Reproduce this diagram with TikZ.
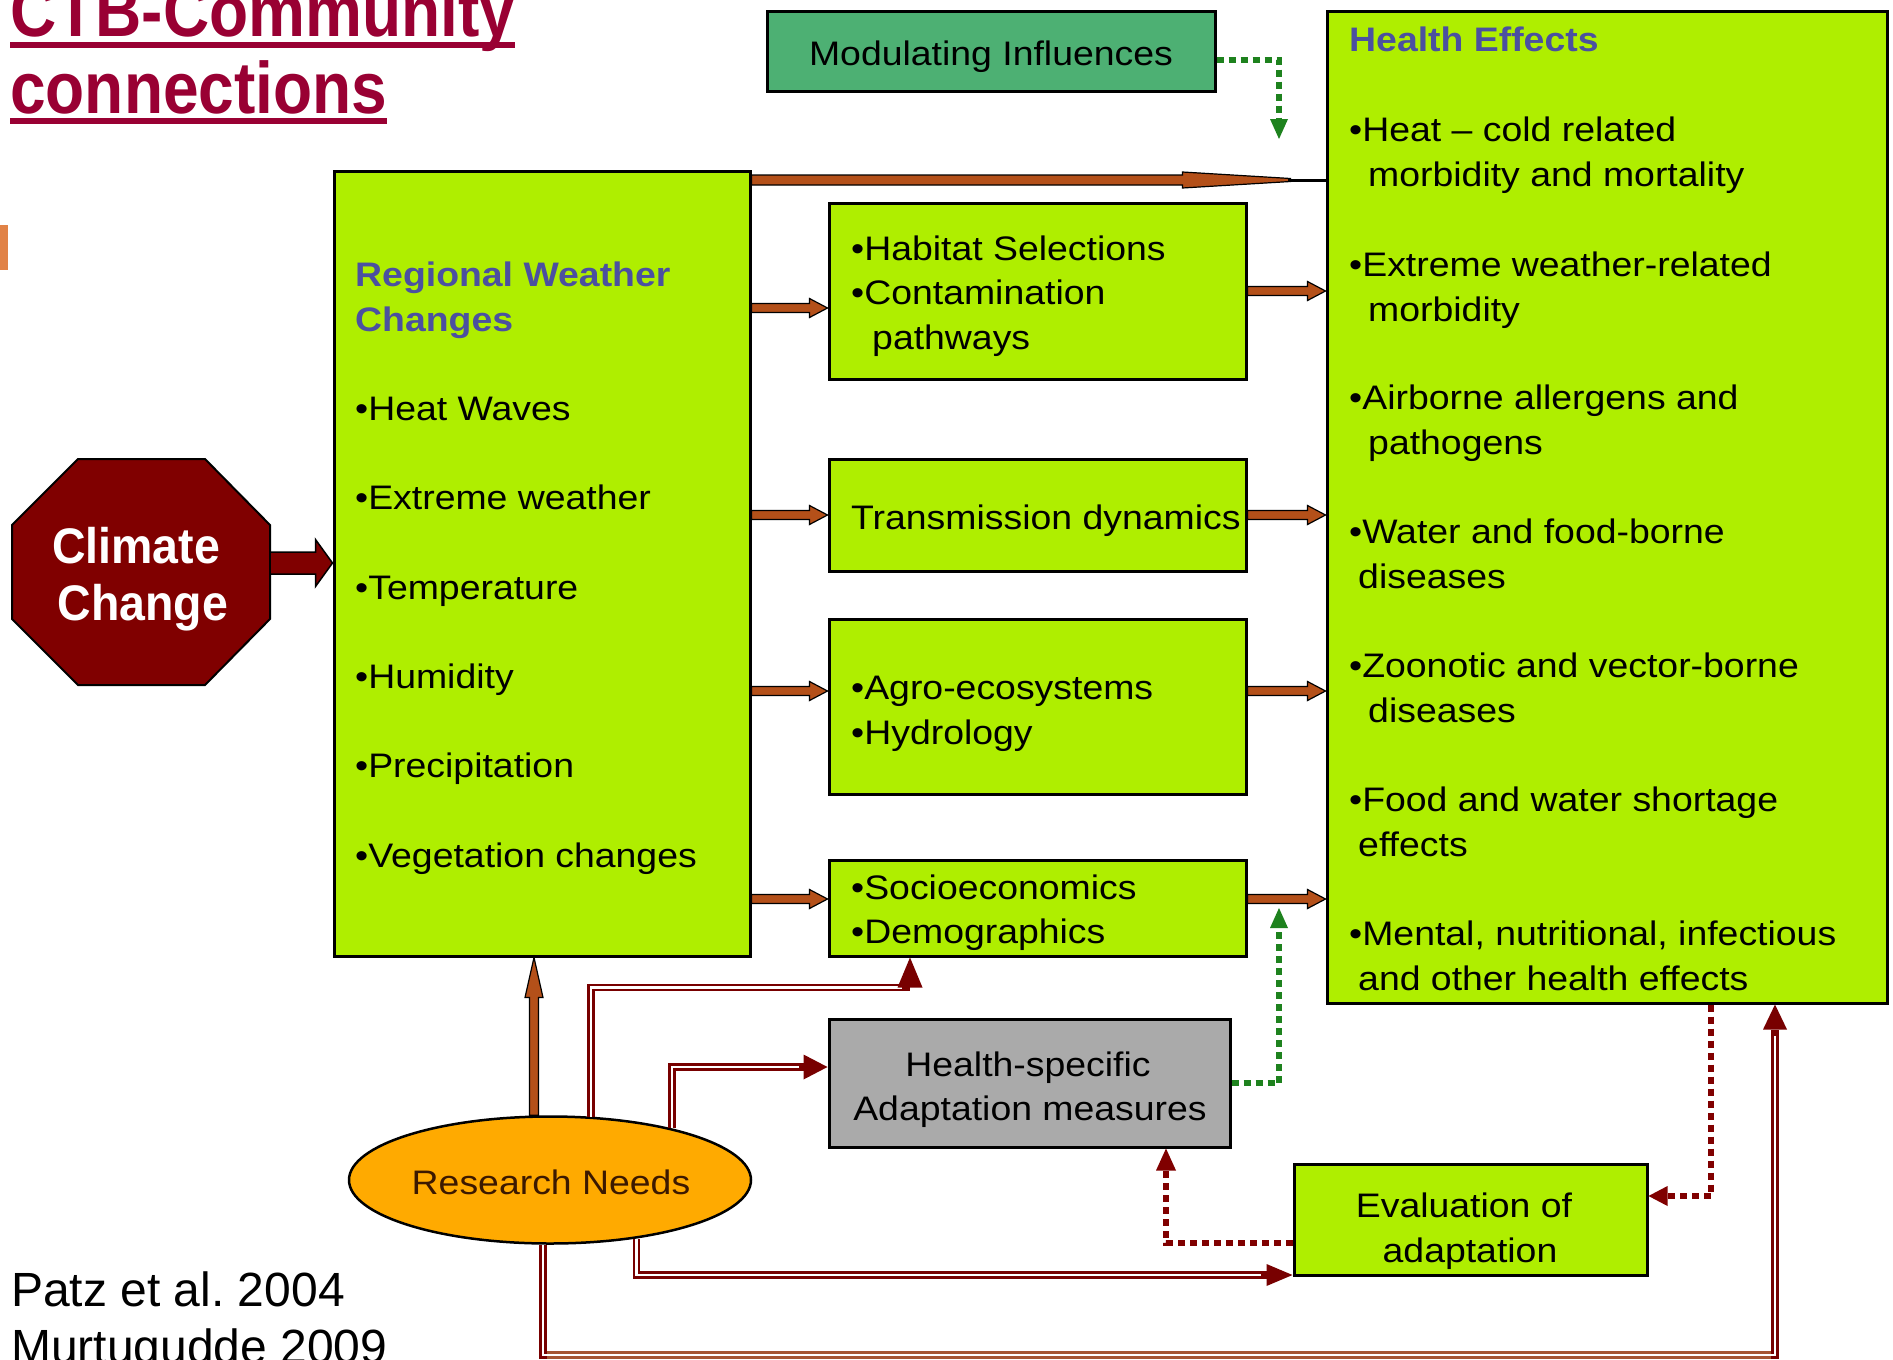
\documentclass[tikz,border=0pt]{standalone}
\usepackage{fontspec}
\setmainfont{Liberation Sans}[FakeStretch=1.1]
\newfontfamily\titlef{Liberation Sans}[FakeStretch=0.877]
\newfontfamily\plainf{Liberation Sans}
\newfontfamily\climf{Liberation Sans}[FakeStretch=0.93]
\usetikzlibrary{shapes.geometric,calc}
\frenchspacing
\definecolor{lime}{RGB}{175,238,0}
\definecolor{modg}{RGB}{77,176,115}
\definecolor{hsgray}{RGB}{170,170,170}
\definecolor{ttl}{RGB}{153,0,51}
\definecolor{hdblue}{RGB}{75,80,160}
\definecolor{octred}{RGB}{128,0,0}
\definecolor{brn}{RGB}{180,80,25}
\definecolor{rdk}{RGB}{120,0,0}
\definecolor{brntwo}{RGB}{165,85,50}
\definecolor{orng}{RGB}{255,170,0}
\definecolor{gdot}{RGB}{30,130,30}
\definecolor{markc}{RGB}{225,130,70}
\definecolor{restxt}{RGB}{60,25,0}
\newcommand\bodyf{\fontsize{34}{40}\selectfont}
\tikzset{
 box/.style={draw=black, line width=3pt, inner sep=0pt, fill=lime},
 ln/.style={anchor=base west, inner sep=0pt, font=\bodyf, text=black},
 hd/.style={anchor=base west, inner sep=0pt, font=\bodyf\bfseries, text=hdblue},
 ctr/.style={anchor=base, inner sep=0pt, font=\bodyf, text=black},
 brownfill/.style={fill=brn, draw=black, line width=1.2pt},
 rdo/.style={draw=rdk, line width=7.5pt},
 rdi/.style={draw=white, line width=2.5pt},
 gd/.style={draw=gdot, line width=6pt, dash pattern=on 7pt off 5pt},
 rdd/.style={draw=octred, line width=6pt, dash pattern=on 7pt off 5pt},
}
% horizontal brown block arrow
\newcommand\brarrow[2]{%
  \path[brownfill] let \p1=(#1), \p2=(#2) in
    (\x1,\y1+4.5pt) -- (\x2-18pt,\y1+4.5pt) -- (\x2-18pt,\y1+9.5pt) -- (\x2,\y1)
    -- (\x2-18pt,\y1-9.5pt) -- (\x2-18pt,\y1-4.5pt) -- (\x1,\y1-4.5pt) -- cycle;}
% vertical (upward) brown block arrow
\newcommand\brvarrow[2]{%
  \path[brownfill] let \p1=(#1), \p2=(#2) in
    (\x1-4.5pt,\y1) -- (\x1-4.5pt,\y2-40pt) -- (\x1-9pt,\y2-40pt) -- (\x1,\y2)
    -- (\x1+9pt,\y2-40pt) -- (\x1+4.5pt,\y2-40pt) -- (\x1+4.5pt,\y1) -- cycle;}
% tips: point, length, half width, colour
\newcommand\tipU[4]{\fill[#4] let \p1=(#1) in (\x1,\y1) -- (\x1-#3,\y1-#2) -- (\x1+#3,\y1-#2) -- cycle;}
\newcommand\tipD[4]{\fill[#4] let \p1=(#1) in (\x1,\y1) -- (\x1-#3,\y1+#2) -- (\x1+#3,\y1+#2) -- cycle;}
\newcommand\tipR[4]{\fill[#4] let \p1=(#1) in (\x1,\y1) -- (\x1-#2,\y1-#3) -- (\x1-#2,\y1+#3) -- cycle;}
\newcommand\tipL[4]{\fill[#4] let \p1=(#1) in (\x1,\y1) -- (\x1+#2,\y1-#3) -- (\x1+#2,\y1+#3) -- cycle;}
\begin{document}
\begin{tikzpicture}[x=1pt,y=-1pt]
\useasboundingbox (0,0) rectangle (1893,1360);
\fill[white] (0,0) rectangle (1893,1360);

% title
\node[anchor=base west, inner sep=0pt, font=\titlef\fontsize{73}{77}\selectfont\bfseries, text=ttl] (t1) at (10,36) {CTB-Community};
\node[anchor=base west, inner sep=0pt, font=\titlef\fontsize{73}{77}\selectfont\bfseries, text=ttl] (t2) at (10,113) {connections};
\draw[ttl, line width=6pt] ($(t1.base west)+(0,9)$) -- ($(t1.base east)+(0,9)$);
\draw[ttl, line width=6pt] ($(t2.base west)+(0,8)$) -- ($(t2.base east)+(0,8)$);
\fill[markc] (0,225) rectangle (8,270);

% boxes
\node[box, fill=modg, minimum width=448pt, minimum height=80pt] (mod) at (991,51) {};
\node[box, minimum width=560pt, minimum height=992pt] (he) at (1607,507) {};
\node[box, minimum width=416pt, minimum height=785pt] (reg) at (542,563.5) {};
\node[box, minimum width=417pt, minimum height=176pt] (hab) at (1037.5,291) {};
\node[box, minimum width=417pt, minimum height=112pt] (tra) at (1037.5,515) {};
\node[box, minimum width=417pt, minimum height=175pt] (agr) at (1037.5,706.5) {};
\node[box, minimum width=417pt, minimum height=96pt] (soc) at (1037.5,908) {};
\node[box, fill=hsgray, minimum width=401pt, minimum height=128pt] (hsa) at (1029.5,1083) {};
\node[box, minimum width=353pt, minimum height=111pt] (eva) at (1470.5,1219.5) {};
\node[ellipse, draw=black, line width=2.5pt, fill=orng, inner sep=0pt, minimum width=402pt, minimum height=127pt] (res) at (550,1180) {};

% climate change octagon
\path[fill=octred, draw=black, line width=2pt] (78,459) -- (205,459) -- (270,525) -- (270,619) -- (205,685) -- (78,685) -- (12,619) -- (12,525) -- cycle;
\coordinate (ccE) at (270,563);
\node[anchor=base, inner sep=0pt, font=\climf\fontsize{50}{57}\selectfont\bfseries, text=white] (cc1) at (136,563) {Climate};
\node[anchor=base, inner sep=0pt, font=\climf\fontsize{50}{57}\selectfont\bfseries, text=white] (cc2) at (143,620) {Change};
\path[fill=octred, draw=black, line width=1.5pt] let \p1=(ccE), \p2=(reg.west |- ccE) in
  (\x1,\y1+11pt) -- (\x2-17pt,\y1+11pt) -- (\x2-17pt,\y1+23.5pt) -- (\x2,\y1)
  -- (\x2-17pt,\y1-23.5pt) -- (\x2-17pt,\y1-11pt) -- (\x1,\y1-11pt) -- cycle;

% texts
\node[ctr] (modt) at (991,65) {Modulating Influences};

\node[hd] (r0a) at (355,286) {Regional Weather};
\node[hd] (r0b) at (355,331) {Changes};
\node[ln] (r1) at (355,420) {•Heat Waves};
\node[ln] (r2) at (355,509) {•Extreme weather};
\node[ln] (r3) at (355,599) {•Temperature};
\node[ln] (r4) at (355,688) {•Humidity};
\node[ln] (r5) at (355,777) {•Precipitation};
\node[ln] (r6) at (355,867) {•Vegetation changes};

\node[ln] (m1) at (851,260) {•Habitat Selections};
\node[ln] (m2) at (851,304) {•Contamination};
\node[ln] (m3) at (872,349) {pathways};
\node[ln] (m4) at (851,529) {Transmission dynamics};
\node[ln] (m5) at (851,699) {•Agro-ecosystems};
\node[ln] (m6) at (851,744) {•Hydrology};
\node[ln] (m7) at (851,899) {•Socioeconomics};
\node[ln] (m8) at (851,943) {•Demographics};

\node[ctr] (hs1) at (1028,1076) {Health-specific};
\node[ctr] (hs2) at (1030,1120) {Adaptation measures};
\node[ctr] (ev1) at (1464,1217) {Evaluation of};
\node[ctr] (ev2) at (1470,1262) {adaptation};
\node[ctr, text=restxt] (rn) at (551,1194) {Research Needs};

\node[hd] (h0) at (1349,51) {Health Effects};
\node[ln] (h1a) at (1349,141) {•Heat – cold related};
\node[ln] (h1b) at (1368,186) {morbidity and mortality};
\node[ln] (h2a) at (1349,276) {•Extreme weather-related};
\node[ln] (h2b) at (1368,321) {morbidity};
\node[ln] (h3a) at (1349,409) {•Airborne allergens and};
\node[ln] (h3b) at (1368,454) {pathogens};
\node[ln] (h4a) at (1349,543) {•Water and food-borne};
\node[ln] (h4b) at (1358,588) {diseases};
\node[ln] (h5a) at (1349,677) {•Zoonotic and vector-borne};
\node[ln] (h5b) at (1368,722) {diseases};
\node[ln] (h6a) at (1349,811) {•Food and water shortage};
\node[ln] (h6b) at (1358,856) {effects};
\node[ln] (h7a) at (1349,945) {•Mental, nutritional, infectious};
\node[ln] (h7b) at (1358,990) {and other health effects};

\node[anchor=base west, inner sep=0pt, font=\plainf\fontsize{48}{56}\selectfont] (c1) at (11,1306) {Patz et al. 2004};
\node[anchor=base west, inner sep=0pt, font=\plainf\fontsize{48}{56}\selectfont] (c2) at (11,1363) {Murtugudde 2009};

% brown arrows
\brarrow{reg.east |- 0,308}{hab.west |- 0,308}
\brarrow{reg.east |- 0,515}{tra.west |- 0,515}
\brarrow{reg.east |- 0,691}{agr.west |- 0,691}
\brarrow{reg.east |- 0,899}{soc.west |- 0,899}
\brarrow{hab.east |- 0,291}{he.west |- 0,291}
\brarrow{tra.east |- 0,515}{he.west |- 0,515}
\brarrow{agr.east |- 0,691}{he.west |- 0,691}
\brarrow{soc.east |- 0,899}{he.west |- 0,899}
% long top arrow
\path[brownfill] let \p1=(reg.east |- 0,180), \p2=(he.west |- 0,180) in
  (\x1,\y1+5pt) -- (\x2-143pt,\y1+5pt) -- (\x2-143pt,\y1+8pt) -- (\x2-35pt,\y1+1.5pt)
  -- (\x2-35pt,\y1-1.5pt) -- (\x2-143pt,\y1-8pt) -- (\x2-143pt,\y1-5pt) -- (\x1,\y1-5pt) -- cycle;
\draw[black, line width=3pt] ($(he.west |- 0,180)+(-38,0)$) -- (he.west |- 0,180);
% research -> regional
\brvarrow{res.north -| 534,0}{reg.south -| 534,0}

% double dark red connectors
\draw[rdo] (res.57) |- ($(soc.south -| 910,0)+(0,30)$);
\draw[rdi, shorten >=8pt] (res.57) |- ($(soc.south -| 910,0)+(0,30)$);
\tipU{soc.south -| 910,0}{30pt}{12.5pt}{rdk}

\draw[rdo] (res.23) |- ($(hsa.west |- 0,1067)+(-23,0)$);
\draw[rdi, shorten >=6pt] (res.23) |- ($(hsa.west |- 0,1067)+(-23,0)$);
\tipR{hsa.west |- 0,1067}{24pt}{12.5pt}{rdk}

\draw[rdo] (res.-34) |- ($(eva.west |- 0,1275)+(-26,0)$);
\draw[rdi, shorten >=6pt] (res.-34) |- ($(eva.west |- 0,1275)+(-26,0)$);
\tipR{eva.west |- 0,1275}{26pt}{11pt}{rdk}

\draw[rdo] (res.south -| 543,0) -- (543,1355) -| ($(he.south -| 1775,0)+(0,25)$);
\draw[draw=brntwo, line width=7.5pt] (547,1355) -- (1771,1355);
\draw[rdi, shorten >=6pt] (res.south -| 543,0) -- (543,1355) -| ($(he.south -| 1775,0)+(0,25)$);
\tipU{he.south -| 1775,0}{25pt}{12pt}{rdk}

% dotted connectors
\coordinate (modEnd) at (1279,139);
\draw[gd] (mod.east |- 0,60) -| ($(modEnd)+(0,-20)$);
\tipD{modEnd}{20pt}{9pt}{gdot}

\coordinate (hsaEnd) at (1279,908);
\draw[gd] (hsa.east |- 0,1083) -| ($(hsaEnd)+(0,20)$);
\tipU{hsaEnd}{20pt}{9pt}{gdot}

\draw[rdd] (he.south -| 1711,0) |- ($(eva.east |- 0,1196)+(19,0)$);
\tipL{eva.east |- 0,1196}{19pt}{10pt}{octred}

\draw[rdd] (eva.west |- 0,1243) -| ($(hsa.south -| 1166,0)+(0,22)$);
\tipU{hsa.south -| 1166,0}{22pt}{10pt}{octred}
\end{tikzpicture}
\end{document}
